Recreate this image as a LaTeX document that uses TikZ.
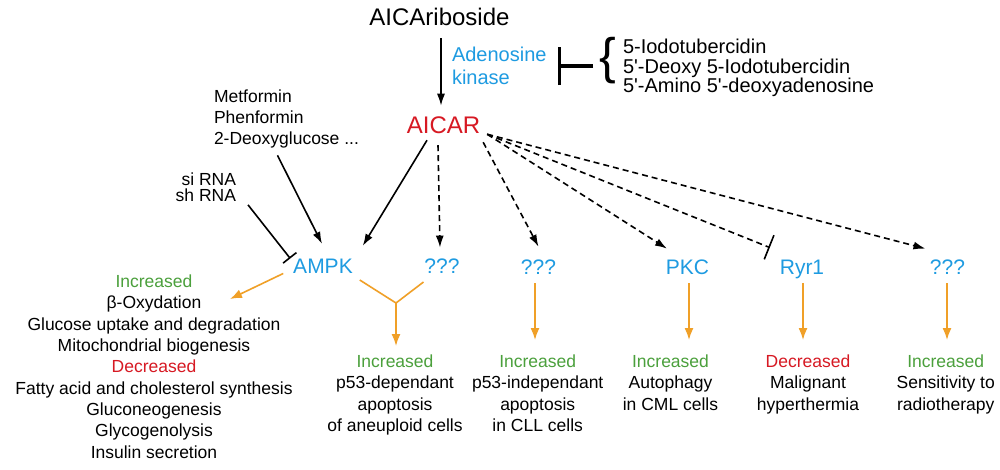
\documentclass[tikz,border=0pt]{standalone}
\usepackage{fontspec}
\setmainfont{Liberation Sans}
\usetikzlibrary{arrows.meta}
\definecolor{kblue}{RGB}{30,155,225}
\definecolor{kred}{RGB}{215,25,35}
\definecolor{kgreen}{RGB}{75,160,60}
\definecolor{korange}{RGB}{240,160,40}
\begin{document}
\begin{tikzpicture}[x=1pt,y=-1pt,
  every node/.style={inner sep=0pt, outer sep=0pt},
  sm/.style={font=\fontsize{17.5}{21.3}\selectfont, align=center},
  lab/.style={font=\fontsize{21}{25}\selectfont, text=kblue},
  blk/.style={line width=1.6pt, -{Latex[length=12pt,width=8pt]}},
  dsh/.style={line width=1.6pt, dash pattern=on 6pt off 4pt, -{Latex[length=12pt,width=8pt]}},
  dshbar/.style={line width=1.6pt, dash pattern=on 6pt off 4pt, -{Bar[width=26pt]}},
  org/.style={draw=korange, line width=1.6pt},
  orgar/.style={org, -{Latex[length=12pt,width=9pt]}},
]
\useasboundingbox (0,0) rectangle (1000,469);
\fill[white] (0,0) rectangle (1000,469);

% top
\node[font=\fontsize{24}{28}\selectfont, anchor=base] (ribo) at (439.5,25) {AICAriboside};
\node[font=\fontsize{24}{28}\selectfont, text=kred, anchor=base] (aicar) at (443.5,133.5) {AICAR};
\node[font=\fontsize{20}{23}\selectfont, text=kblue, align=left, anchor=north west] (ak) at (452,47) {Adenosine\\kinase};
\node[font=\fontsize{50}{54}\selectfont] (brace) at (608,61) {\{};
\node[font=\fontsize{20}{19.6}\selectfont, align=left, anchor=north west] (inh) at (623,39)
  {5-Iodotubercidin\\5\textquotesingle-Deoxy 5-Iodotubercidin\\5\textquotesingle-Amino 5\textquotesingle-deoxyadenosine};
\coordinate (akbar) at (557.5,66);

% left inputs
\node[align=left, anchor=north west, font=\fontsize{17.5}{21}\selectfont] (met) at (214,90) {Metformin\\Phenformin\\2-Deoxyglucose ...};
\node[align=right, anchor=north east, font=\fontsize{17.5}{15.7}\selectfont] (rna) at (236,173) {si RNA\\sh RNA};

% targets
\node[lab, anchor=base] (ampk) at (323,273) {AMPK};
\node[lab, anchor=base] (q1) at (442,273) {???};
\node[lab, anchor=base] (q2) at (538.5,274) {???};
\node[lab, anchor=base] (pkc) at (687.5,274) {PKC};
\node[lab, anchor=base] (ryr) at (802,274) {Ryr1};
\node[lab, anchor=base] (q3) at (947.5,274) {???};

% outcome blocks
\node[sm, anchor=north] (b0) at (154,275) {\textcolor{kgreen}{Increased}\\β-Oxydation\\Glucose uptake and degradation\\Mitochondrial biogenesis\\\textcolor{kred}{Decreased}\\Fatty acid and cholesterol synthesis\\Gluconeogenesis\\Glycogenolysis\\Insulin secretion};
\node[sm, anchor=north] (b1) at (395,355) {\textcolor{kgreen}{Increased}\\p53-dependant\\apoptosis\\of aneuploid cells};
\node[sm, anchor=north] (b2) at (537.7,355) {\textcolor{kgreen}{Increased}\\p53-independant\\apoptosis\\in CLL cells};
\node[sm, anchor=north] (b3) at (670.5,355) {\textcolor{kgreen}{Increased}\\Autophagy\\in CML cells};
\node[sm, anchor=north] (b4) at (808,355) {\textcolor{kred}{Decreased}\\Malignant\\hyperthermia};
\node[sm, anchor=north] (b5) at (945.7,355) {\textcolor{kgreen}{Increased}\\Sensitivity to\\radiotherapy};

% black connectors
\draw[blk] ([shift={(1.5,13)}]ribo.south) -- ([shift={(-2.5,-11)}]aicar.north);
\draw[line width=3.3pt, -{Bar[width=38pt]}] ([shift={(-15,5)}]brace.center) -- (akbar);
\draw[blk] ([shift={(-9,7)}]met.south) -- ([shift={(-1,-14.7)}]ampk.north);
\draw[blk] ([shift={(-16.5,6.5)}]aicar.south) -- ([shift={(10,-12.7)}]ampk.north east);
\draw[line width=1.6pt, -{Bar[width=17pt]}] ([shift={(12,3.3)}]rna.south east) -- ([shift={(-3,-7.3)}]ampk.west);
\draw[dsh] ([shift={(-5.5,11.5)}]aicar.south) -- ([shift={(-2,-10.7)}]q1.north);
\draw[dsh] ([shift={(3,17)}]aicar.east) -- ([shift={(0,-12.7)}]q2.north);
\draw[dsh] ([shift={(7,9)}]aicar.east) -- ([shift={(-20.5,-10.7)}]pkc.north);
\draw[dshbar] ([shift={(7,9)}]aicar.east) -- ([shift={(-10,-12)}]ryr.north west);
\draw[dsh] ([shift={(7,9)}]aicar.east) -- ([shift={(-4.5,-10.7)}]q3.north west);

% orange connectors
\draw[orgar] ([shift={(-10,7.7)}]ampk.west) -- ([shift={(76,24)}]b0.north);
\coordinate (yj) at (396,303);
\draw[org] ([shift={(7,7)}]ampk.south east) -- (yj);
\draw[org] ([shift={(-1,9)}]q1.south west) -- (yj);
\draw[orgar] (yj) -- ([shift={(1,-9)}]b1.north);
\draw[orgar] ([shift={(-3.5,9)}]q2.south) -- ([shift={(-2.7,-15)}]b2.north);
\draw[orgar] ([shift={(1.5,9)}]pkc.south) -- ([shift={(18.5,-15)}]b3.north);
\draw[orgar] ([shift={(1,4.6)}]ryr.south) -- ([shift={(-5,-15)}]b4.north);
\draw[orgar] ([shift={(-0.5,9)}]q3.south) -- ([shift={(1.3,-15)}]b5.north);
\end{tikzpicture}
\end{document}
